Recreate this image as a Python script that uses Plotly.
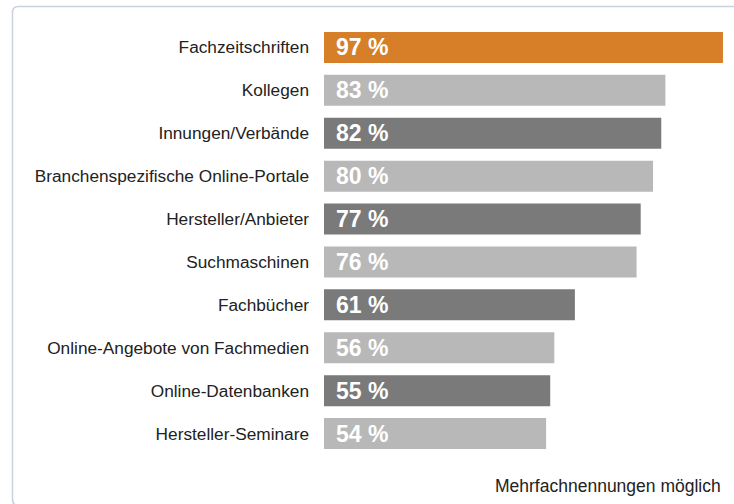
import plotly.graph_objects as go

categories = ["Fachzeitschriften", "Kollegen", "Innungen/Verbände",
              "Branchenspezifische Online-Portale", "Hersteller/Anbieter",
              "Suchmaschinen", "Fachbücher", "Online-Angebote von Fachmedien",
              "Online-Datenbanken", "Hersteller-Seminare"]
values = [97, 83, 82, 80, 77, 76, 61, 56, 55, 54]
colors = ["#D67F28", "#B8B8B8", "#7A7A7A", "#B8B8B8", "#7A7A7A",
          "#B8B8B8", "#7A7A7A", "#B8B8B8", "#7A7A7A", "#B8B8B8"]
labels = [f"{v} %" for v in values]
footnote = "Mehrfachnennungen möglich"

W, H = 734, 504
L, R, T, B = 324, 0, 26, 49
PW, PH = W - L - R, H - T - B
FONT = "Liberation Sans, Arial, Helvetica, sans-serif"

fig = go.Figure()
fig.add_trace(go.Bar(
    y=categories, x=values, orientation="h",
    marker=dict(color=colors, line=dict(width=0)),
    hoverinfo="skip",
))

for c, v, t in zip(categories, values, labels):
    fig.add_annotation(x=0, y=c, text=f"<b>{t}</b>", showarrow=False,
                       xanchor="left", xshift=10, yshift=0,
                       font=dict(family=FONT, size=23, color="white"))

fig.add_annotation(x=(723 - L) / PW, y=(H - B - 486) / PH, xref="paper", yref="paper",
                   text=footnote, showarrow=False, xanchor="right", yanchor="middle",
                   font=dict(family=FONT, size=17.5, color="#222222"))

# rounded border (decoration)
def px(x):
    return (x - L) / PW

def py(y):
    return (H - B - y) / PH

x0, y0, x1, y1, r = 12.5, 6.5, 745, 505.5, 6
path = (f"M {px(x0 + r)} {py(y0)} L {px(x1)} {py(y0)} "
        f"M {px(x0)} {py(y0 + r)} Q {px(x0)} {py(y0)} {px(x0 + r)} {py(y0)} "
        f"M {px(x0)} {py(y0 + r)} L {px(x0)} {py(y1 - r)} "
        f"Q {px(x0)} {py(y1)} {px(x0 + r)} {py(y1)} L {px(x1)} {py(y1)}")
fig.add_shape(type="path", path=path, xref="paper", yref="paper",
              line=dict(color="#C9D1DD", width=1.5), layer="below")

fig.update_layout(
    width=W, height=H,
    margin=dict(l=L, r=R, t=T, b=B),
    paper_bgcolor="white", plot_bgcolor="white",
    bargap=0.277, showlegend=False,
    xaxis=dict(range=[0, PW / 4.113], visible=False, fixedrange=True),
    yaxis=dict(autorange="reversed", showline=False, showgrid=False, ticks="",
               ticklabelstandoff=14, fixedrange=True,
               tickfont=dict(family=FONT, size=17.25, color="#222222")),
)

fig.write_html("out.html", config={"displayModeBar": False, "staticPlot": True},
               post_script="document.body.style.margin='0';document.body.style.overflow='hidden';")
